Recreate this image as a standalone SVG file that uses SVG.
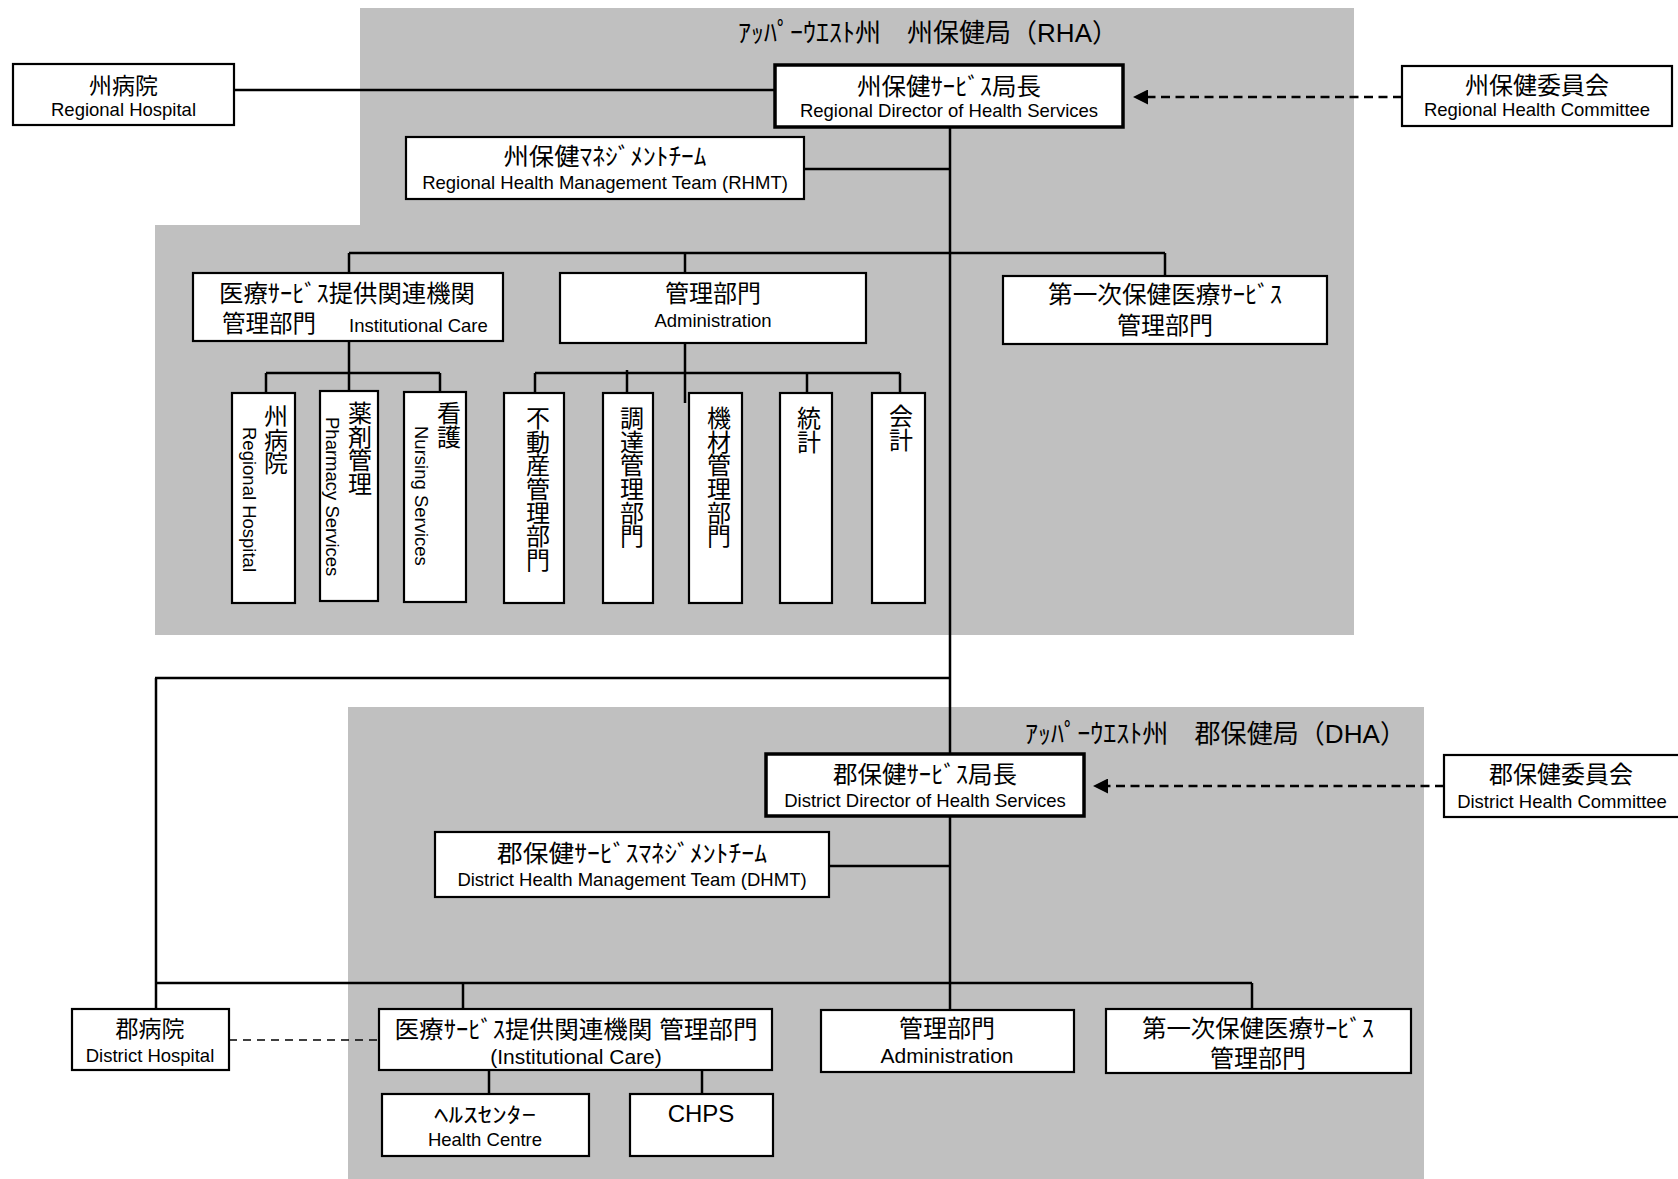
<svg xmlns="http://www.w3.org/2000/svg" width="1678" height="1179" viewBox="0 0 1678 1179">
<style>
text{font-family:"Liberation Sans","Noto Sans CJK JP",sans-serif;fill:#000}
.c{text-anchor:middle}
.jp{font-size:24px}
.en{font-size:18.5px}
.en2{font-size:21px}
.ttl{font-size:26px}
.vt{font-size:24px;writing-mode:vertical-rl;letter-spacing:-0.4px}
.box{fill:#fff;stroke:#000;stroke-width:2.2}
.thick{stroke-width:3.5}
.ln{stroke:#000;stroke-width:2.5;fill:none}
.dash{stroke-dasharray:9 5.5}
.thin{stroke-width:1.5;stroke-dasharray:8 6}
.bg{fill:#c0c0c0}
</style>
<defs>
<marker id="arr" viewBox="0 0 10 10" refX="0" refY="5" markerWidth="6.4" markerHeight="6" markerUnits="strokeWidth" orient="auto">
<path d="M0,0 L10,5 L0,10 Z" fill="#000"/>
</marker>
</defs>
<g id="backgrounds">
<path class="bg" d="M360,8 H1354 V635 H155 V225 H360 Z"/>
<rect class="bg" x="348" y="707" width="1076" height="472"/>
<text class="ttl" x="738" y="41.5" textLength="380" lengthAdjust="spacingAndGlyphs">ｱｯﾊﾟｰｳｴｽﾄ州　州保健局（RHA）</text>
<text class="ttl" x="1025" y="743" textLength="381" lengthAdjust="spacingAndGlyphs">ｱｯﾊﾟｰｳｴｽﾄ州　郡保健局（DHA）</text>
</g>
<g id="connectors">
<line class="ln" x1="234" y1="90" x2="775" y2="90"/>
<line class="ln dash" x1="1402" y1="97" x2="1148" y2="97" marker-end="url(#arr)"/>
<line class="ln" x1="950" y1="127" x2="950" y2="1010"/>
<line class="ln" x1="804" y1="169" x2="950" y2="169"/>
<line class="ln" x1="349" y1="253" x2="1165" y2="253"/>
<line class="ln" x1="349" y1="253" x2="349" y2="273"/>
<line class="ln" x1="685" y1="253" x2="685" y2="273"/>
<line class="ln" x1="1165" y1="253" x2="1165" y2="276"/>
<line class="ln" x1="349" y1="341" x2="349" y2="391"/>
<line class="ln" x1="266" y1="373" x2="440" y2="373"/>
<line class="ln" x1="266" y1="373" x2="266" y2="393"/>
<line class="ln" x1="440" y1="373" x2="440" y2="392"/>
<line class="ln" x1="685" y1="343" x2="685" y2="403"/>
<line class="ln" x1="535" y1="373" x2="900" y2="373"/>
<line class="ln" x1="535" y1="373" x2="535" y2="393"/>
<line class="ln" x1="627" y1="370" x2="627" y2="393"/>
<line class="ln" x1="807" y1="373" x2="807" y2="393"/>
<line class="ln" x1="900" y1="373" x2="900" y2="393"/>
<line class="ln" x1="155" y1="678" x2="950" y2="678"/>
<line class="ln" x1="156" y1="678" x2="156" y2="1009"/>
<line class="ln" x1="829" y1="866" x2="950" y2="866"/>
<line class="ln dash" x1="1444" y1="786" x2="1108" y2="786" marker-end="url(#arr)"/>
<line class="ln" x1="156" y1="983" x2="1252" y2="983"/>
<line class="ln" x1="463" y1="983" x2="463" y2="1009"/>
<line class="ln" x1="1252" y1="983" x2="1252" y2="1009"/>
<line class="ln thin" x1="229" y1="1040" x2="379" y2="1040"/>
<line class="ln" x1="489" y1="1070" x2="489" y2="1094"/>
<line class="ln" x1="702" y1="1070" x2="702" y2="1094"/>
</g>
<g id="n-regional-hospital">
<rect class="box" x="13" y="64" width="221" height="61"/>
<text class="jp c" x="123.5" y="94" style="font-size:23px">州病院</text>
<text class="en c" x="123.5" y="116">Regional Hospital</text>
</g>
<g id="n-regional-director">
<rect class="box thick" x="775" y="65" width="348" height="62"/>
<text class="jp c" x="949" y="95" textLength="184" lengthAdjust="spacingAndGlyphs">州保健ｻｰﾋﾞｽ局長</text>
<text class="en c" x="949" y="117">Regional Director of Health Services</text>
</g>
<g id="n-regional-committee">
<rect class="box" x="1402" y="66" width="270" height="60"/>
<text class="jp c" x="1537" y="94">州保健委員会</text>
<text class="en c" x="1537" y="116">Regional Health Committee</text>
</g>
<g id="n-rhmt">
<rect class="box" x="406" y="137" width="398" height="62"/>
<text class="jp c" x="605" y="165" textLength="203" lengthAdjust="spacingAndGlyphs">州保健ﾏﾈｼﾞﾒﾝﾄﾁｰﾑ</text>
<text class="en c" x="605" y="189">Regional Health Management Team (RHMT)</text>
</g>
<g id="n-r-institutional">
<rect class="box" x="193" y="273" width="310" height="68"/>
<text class="jp c" x="347" y="302" textLength="256" lengthAdjust="spacingAndGlyphs">医療ｻｰﾋﾞｽ提供関連機関</text>
<text class="jp" x="222" y="332" style="font-size:23.5px">管理部門</text>
<text class="en" x="349" y="332">Institutional Care</text>
</g>
<g id="n-r-admin">
<rect class="box" x="560" y="273" width="306" height="70"/>
<text class="jp c" x="713" y="302">管理部門</text>
<text class="en c" x="713" y="327">Administration</text>
</g>
<g id="n-r-phc">
<rect class="box" x="1003" y="276" width="324" height="68"/>
<text class="jp c" x="1165" y="303" textLength="234" lengthAdjust="spacingAndGlyphs">第一次保健医療ｻｰﾋﾞｽ</text>
<text class="jp c" x="1165" y="334">管理部門</text>
</g>
<g id="n-r-hospital-v">
<rect class="box" x="232" y="393" width="63" height="210"/>
<text class="vt" x="274" y="404">州病院</text>
<text class="en" transform="translate(243,427) rotate(90)">Regional Hospital</text>
</g>
<g id="n-r-pharmacy">
<rect class="box" x="320" y="391" width="58" height="210"/>
<text class="vt" x="358" y="401">薬剤管理</text>
<text class="en" transform="translate(326,417) rotate(90)">Pharmacy Services</text>
</g>
<g id="n-r-nursing">
<rect class="box" x="404" y="392" width="62" height="210"/>
<text class="vt" x="447" y="401">看護</text>
<text class="en" transform="translate(415,426) rotate(90)">Nursing Services</text>
</g>
<g id="n-r-estate">
<rect class="box" x="504" y="393" width="60" height="210"/>
<text class="vt" x="536" y="406">不動産管理部門</text>
</g>
<g id="n-r-procurement">
<rect class="box" x="603" y="393" width="50" height="210"/>
<text class="vt" x="630" y="406">調達管理部門</text>
</g>
<g id="n-r-equipment">
<rect class="box" x="689" y="393" width="53" height="210"/>
<text class="vt" x="717" y="406">機材管理部門</text>
</g>
<g id="n-r-statistics">
<rect class="box" x="780" y="393" width="52" height="210"/>
<text class="vt" x="807" y="406">統計</text>
</g>
<g id="n-r-accounts">
<rect class="box" x="872" y="393" width="53" height="210"/>
<text class="vt" x="899" y="404">会計</text>
</g>
<g id="n-district-director">
<rect class="box thick" x="766" y="754" width="318" height="62"/>
<text class="jp c" x="925" y="783" textLength="184" lengthAdjust="spacingAndGlyphs">郡保健ｻｰﾋﾞｽ局長</text>
<text class="en c" x="925" y="807">District Director of Health Services</text>
</g>
<g id="n-district-committee">
<rect class="box" x="1444" y="755" width="240" height="62"/>
<text class="jp c" x="1561" y="783">郡保健委員会</text>
<text class="en c" x="1562" y="808">District Health Committee</text>
</g>
<g id="n-dhmt">
<rect class="box" x="435" y="832" width="394" height="65"/>
<text class="jp c" x="632" y="862" textLength="270" lengthAdjust="spacingAndGlyphs">郡保健ｻｰﾋﾞｽﾏﾈｼﾞﾒﾝﾄﾁｰﾑ</text>
<text class="en c" x="632" y="886">District Health Management Team (DHMT)</text>
</g>
<g id="n-district-hospital">
<rect class="box" x="72" y="1009" width="157" height="61"/>
<text class="jp c" x="150" y="1037" style="font-size:23px">郡病院</text>
<text class="en c" x="150" y="1062">District Hospital</text>
</g>
<g id="n-d-institutional">
<rect class="box" x="379" y="1009" width="393" height="61"/>
<text class="jp c" x="576" y="1038" textLength="363" lengthAdjust="spacingAndGlyphs">医療ｻｰﾋﾞｽ提供関連機関 管理部門</text>
<text class="en2 c" x="576" y="1064">(Institutional Care)</text>
</g>
<g id="n-health-centre">
<rect class="box" x="382" y="1094" width="207" height="62"/>
<text class="jp c" x="485" y="1122" style="font-size:21px" textLength="102" lengthAdjust="spacingAndGlyphs">ﾍﾙｽｾﾝﾀｰ</text>
<text class="en c" x="485" y="1146">Health Centre</text>
</g>
<g id="n-chps">
<rect class="box" x="630" y="1094" width="143" height="62"/>
<text class="c" x="701" y="1122" style="font-size:24px">CHPS</text>
</g>
<g id="n-d-admin">
<rect class="box" x="821" y="1010" width="253" height="62"/>
<text class="jp c" x="947" y="1037">管理部門</text>
<text class="en2 c" x="947" y="1063">Administration</text>
</g>
<g id="n-d-phc">
<rect class="box" x="1106" y="1009" width="305" height="64"/>
<text class="jp c" x="1258" y="1037" textLength="232" lengthAdjust="spacingAndGlyphs">第一次保健医療ｻｰﾋﾞｽ</text>
<text class="jp c" x="1258" y="1067">管理部門</text>
</g>
</svg>
